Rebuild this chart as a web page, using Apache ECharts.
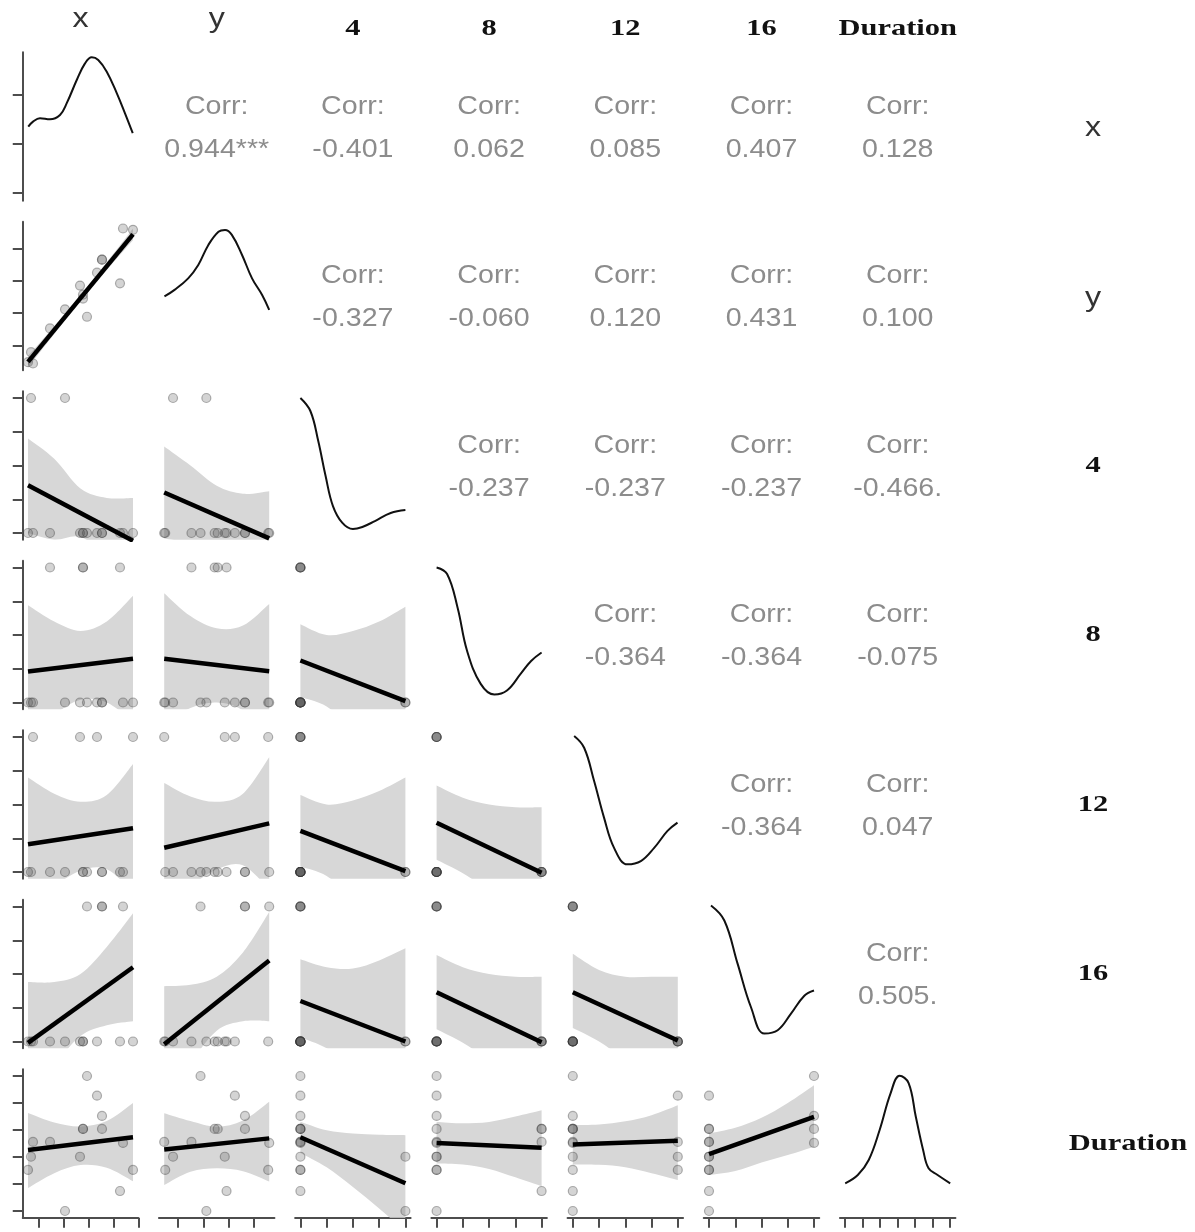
<!DOCTYPE html>
<html><head><meta charset="utf-8">
<script src="https://cdn.jsdelivr.net/npm/echarts@6/dist/echarts.min.js"></script>
<style>html,body{margin:0;padding:0;background:#fff}#c{width:1195px;height:1232px}</style>
</head><body><div id="c"></div>
<script>
// ---------- data (15 observations) ----------
const varNames = ['x', 'y', '4', '8', '12', '16', 'Duration'];
const xVals    = [0.59, 0.71, 2.07, 1.47, 2.79, 2.79, 4.27, 0.79, 2.67, 3.35, 4.79, 2.95, 3.55, 3.55, 4.39];
const yVals    = [0.49, 0.80, 2.12, 1.53, 2.45, 2.57, 2.92, 0.45, 2.85, 3.25, 4.57, 1.89, 3.65, 3.65, 4.61];
const d4       = [0, 1, 1, 0, 0, 0, 0, 0, 0, 0, 0, 0, 0, 0, 0];
const d8       = [0, 0, 0, 1, 1, 1, 1, 0, 0, 0, 0, 0, 0, 0, 0];
const d12      = [0, 0, 0, 0, 0, 0, 0, 1, 1, 1, 1, 0, 0, 0, 0];
const d16      = [0, 0, 0, 0, 0, 0, 0, 0, 0, 0, 0, 1, 1, 1, 1];
const duration = [1.52, 2.01, 0.00, 2.56, 3.04, 3.04, 0.74, 2.56, 2.01, 4.27, 1.52, 5.00, 3.52, 3.04, 2.52];

// correlation texts (upper triangle), row by row
const corrRow0 = ['0.944***', '-0.401', '0.062', '0.085', '0.407', '0.128'];
const corrRow1 = ['-0.327', '-0.060', '0.120', '0.431', '0.100'];
const corrRow2 = ['-0.237', '-0.237', '-0.237', '-0.466.'];
const corrRow3 = ['-0.364', '-0.364', '-0.075'];
const corrRow4 = ['-0.364', '0.047'];
const corrRow5 = ['0.505.'];

// tick positions (no labels shown)
const ticksX   = [1, 2, 3, 4, 5];
const ticksY   = [1, 2, 3, 4];
const ticksBin = [0, 0.25, 0.5, 0.75, 1];
const ticksDurY = [0, 1, 2, 3, 4, 5];
const ticksDurX = [0, 0.833, 1.667, 2.5, 3.333, 4.167, 5];
const ticksDiag0 = [0.052, 0.382, 0.712];

// x positions where the confidence bands were read
const bandXsX = [0.59, 1.64, 2.69, 3.74, 4.79];
const bandXsY = [0.45, 1.49, 2.53, 3.57, 4.61];
const bandXsB = [0, 0.25, 0.5, 0.75, 1];

// fitted lines (value at x-min, x-max) and bands (lo / hi)
const fitYX   = {line: [0.50, 4.43],  lo: [0.32, 1.36, 2.375, 3.33, 4.25],  hi: [0.68, 1.60, 2.555, 3.57, 4.61]};
const fit4X   = {line: [0.353, -0.058], lo: [0.0, -0.05, -0.03, -0.17, -0.38], hi: [0.70, 0.55, 0.33, 0.26, 0.26]};
const fit4Y   = {line: [0.30, -0.04], lo: [-0.04, -0.07, -0.09, -0.20, -0.39], hi: [0.64, 0.50, 0.35, 0.29, 0.31]};
const fit8X   = {line: [0.23, 0.324], lo: [-0.26, -0.09, 0.02, 0.0, -0.14], hi: [0.72, 0.60, 0.53, 0.60, 0.79]};
const fit8Y   = {line: [0.324, 0.232], lo: [-0.16, -0.04, 0.0, -0.06, -0.27], hi: [0.81, 0.64, 0.55, 0.57, 0.73]};
const fit84   = {line: [0.311, 0.01], lo: [0.04, -0.03, -0.20, -0.43, -0.69], hi: [0.58, 0.50, 0.53, 0.60, 0.71]};
const fit12X  = {line: [0.205, 0.324], lo: [-0.29, -0.11, 0.01, 0.02, -0.15], hi: [0.70, 0.58, 0.52, 0.57, 0.80]};
const fit12Y  = {line: [0.18, 0.36], lo: [-0.30, -0.11, 0.02, 0.05, -0.13], hi: [0.66, 0.56, 0.52, 0.58, 0.85]};
const fit124  = {line: [0.304, 0.007], lo: [0.04, -0.03, -0.20, -0.43, -0.69], hi: [0.57, 0.50, 0.53, 0.60, 0.70]};
const fit128  = {line: [0.365, -0.005], lo: [0.09, -0.01, -0.14, -0.30, -0.49], hi: [0.64, 0.55, 0.50, 0.48, 0.48]};
const fit16X  = {line: [-0.01, 0.55], lo: [-0.46, -0.18, 0.04, 0.12, 0.15], hi: [0.44, 0.44, 0.50, 0.70, 0.95]};
const fit16Y  = {line: [-0.02, 0.60], lo: [-0.45, -0.16, 0.08, 0.15, 0.15], hi: [0.41, 0.42, 0.48, 0.66, 0.96]};
const fit164  = {line: [0.30, 0.0], lo: [0.03, -0.05, -0.20, -0.43, -0.69], hi: [0.61, 0.55, 0.54, 0.60, 0.69]};
const fit168  = {line: [0.365, -0.005], lo: [0.09, -0.01, -0.14, -0.30, -0.49], hi: [0.64, 0.55, 0.50, 0.48, 0.48]};
const fit1612 = {line: [0.365, 0.007], lo: [0.10, 0.0, -0.14, -0.30, -0.49], hi: [0.65, 0.53, 0.48, 0.48, 0.48]};
const fitDX   = {line: [2.26, 2.73], lo: [0.85, 1.40, 1.70, 1.60, 1.10], hi: [3.63, 3.28, 3.13, 3.33, 4.00]};
const fitDY   = {line: [2.28, 2.69], lo: [0.96, 1.45, 1.58, 1.47, 1.09], hi: [3.62, 3.33, 3.12, 3.35, 4.05]};
const fitD4   = {line: [2.73, 1.03], lo: [2.15, 1.62, 0.89, 0.09, -0.75], hi: [3.31, 2.99, 2.87, 2.82, 2.81]};
const fitD8   = {line: [2.52, 2.34], lo: [1.76, 1.72, 1.56, 1.25, 0.92], hi: [3.30, 3.25, 3.30, 3.50, 3.73]};
const fitD12  = {line: [2.46, 2.60], lo: [1.72, 1.71, 1.62, 1.40, 1.15], hi: [3.18, 3.20, 3.32, 3.55, 3.92]};
const fitD16  = {line: [2.11, 3.49], lo: [1.33, 1.48, 1.80, 2.07, 2.38], hi: [2.87, 3.08, 3.45, 4.00, 4.66]};

// density curves on the diagonal (x value, relative height in panel)
const densX = [[0.60,0.499],[0.79,0.533],[1.07,0.556],[1.47,0.549],[1.87,0.578],[2.14,0.657],[2.54,0.813],[2.87,0.925],[3.14,0.966],[3.40,0.948],[3.74,0.869],[4.14,0.725],[4.47,0.589],[4.78,0.455]];
const densY = [[0.46,0.497],[0.86,0.541],[1.40,0.619],[1.80,0.709],[2.20,0.844],[2.60,0.933],[2.86,0.945],[3.13,0.912],[3.53,0.778],[3.93,0.619],[4.33,0.507],[4.61,0.407]];
const dens4 = [[0,0.955],[0.095,0.867],[0.17,0.665],[0.24,0.429],[0.31,0.227],[0.40,0.113],[0.50,0.072],[0.59,0.086],[0.71,0.126],[0.86,0.180],[1.0,0.200]];
const dens8 = [[0,0.955],[0.10,0.911],[0.20,0.684],[0.29,0.394],[0.42,0.171],[0.55,0.099],[0.67,0.126],[0.80,0.238],[0.90,0.325],[1.0,0.382]];
const dens12 = [[0.013,0.961],[0.108,0.882],[0.203,0.658],[0.298,0.41],[0.393,0.208],[0.52,0.097],[0.648,0.119],[0.775,0.208],[0.902,0.322],[0.997,0.378]];
const dens16 = [[0.019,0.961],[0.146,0.86],[0.273,0.568],[0.40,0.276],[0.527,0.099],[0.654,0.121],[0.781,0.233],[0.908,0.354],[1.0,0.389]];
const densDur = [[0,0.232],[0.60,0.288],[1.12,0.389],[1.64,0.591],[2.16,0.838],[2.59,0.956],[3.02,0.907],[3.36,0.682],[3.71,0.457],[3.97,0.333],[4.40,0.288],[5.0,0.232]];

// ---------- build ----------
const vars = [xVals, yVals, d4, d8, d12, d16, duration];
const xTickSets = [ticksX, ticksY, ticksBin, ticksBin, ticksBin, ticksBin, ticksDurX];
const yTickSets = [null, ticksY, ticksBin, ticksBin, ticksBin, ticksBin, ticksDurY];
const bandXsByCol = [bandXsX, bandXsY, bandXsB, bandXsB, bandXsB, bandXsB];
const densities = [densX, densY, dens4, dens8, dens12, dens16, densDur];
const corrRows = [corrRow0, corrRow1, corrRow2, corrRow3, corrRow4, corrRow5];
const lowerFits = {
  '1,0': fitYX,
  '2,0': fit4X, '2,1': fit4Y,
  '3,0': fit8X, '3,1': fit8Y, '3,2': fit84,
  '4,0': fit12X, '4,1': fit12Y, '4,2': fit124, '4,3': fit128,
  '5,0': fit16X, '5,1': fit16Y, '5,2': fit164, '5,3': fit168, '5,4': fit1612,
  '6,0': fitDX, '6,1': fitDY, '6,2': fitD4, '6,3': fitD8, '6,4': fitD12, '6,5': fitD16
};

const colLeft = c => 28 + 136.2 * c;
const rowTop = r => 59 + 169.5 * r;
const PW = 105, PH = 135;
const range = arr => [Math.min(...arr), Math.max(...arr)];
const ranges = vars.map(range);
const expand = rg => { const d = rg[1] - rg[0]; return [rg[0] - 0.05 * d, rg[1] + 0.05 * d]; };

const AX = '#4d4d4d';
const grids = [], xAxes = [], yAxes = [], series = [], graphics = [];

function axisCommon(show, ticks) {
  return {
    show: show,
    axisLine: {show: true, onZero: false, lineStyle: {color: AX, width: 2}},
    axisTick: {show: true, length: 10, lineStyle: {color: AX, width: 2}, customValues: ticks || undefined},
    axisLabel: {show: false},
    splitLine: {show: false}
  };
}

function addGrid(r, c, diag) {
  const gi = grids.length;
  grids.push({left: colLeft(c) - 0.05 * PW, top: rowTop(r) - 0.05 * PH, width: PW * 1.1, height: PH * 1.1});
  const xr = expand(ranges[c]);
  xAxes.push(Object.assign({gridIndex: gi, type: 'value', min: xr[0], max: xr[1]}, axisCommon(r === 6, xTickSets[c])));
  if (diag) {
    yAxes.push(Object.assign({gridIndex: gi, type: 'value', min: 0, max: 1}, axisCommon(r === 0 && c === 0, ticksDiag0)));
  } else {
    const yr = expand(ranges[r]);
    yAxes.push(Object.assign({gridIndex: gi, type: 'value', min: yr[0], max: yr[1]}, axisCommon(c === 0, yTickSets[r])));
  }
  return gi;
}

// smooth path through points (Catmull-Rom as cubic Bezier) - drawing helper only
function curvePath(pts, startWithMove) {
  let d = startWithMove ? 'M' + pts[0][0] + ' ' + pts[0][1] : 'L' + pts[0][0] + ' ' + pts[0][1];
  for (let i = 0; i < pts.length - 1; i++) {
    const p0 = pts[Math.max(i - 1, 0)], p1 = pts[i], p2 = pts[i + 1], p3 = pts[Math.min(i + 2, pts.length - 1)];
    const c1x = p1[0] + (p2[0] - p0[0]) / 6, c1y = p1[1] + (p2[1] - p0[1]) / 6;
    const c2x = p2[0] - (p3[0] - p1[0]) / 6, c2y = p2[1] - (p3[1] - p1[1]) / 6;
    d += ' C' + c1x + ' ' + c1y + ' ' + c2x + ' ' + c2y + ' ' + p2[0] + ' ' + p2[1];
  }
  return d;
}

function bandSeries(gi, xs, fit) {
  return {
    type: 'custom', xAxisIndex: gi, yAxisIndex: gi, silent: true, z: 1,
    data: xs.map((x, i) => [x, fit.lo[i], fit.hi[i]]),
    renderItem: function (params, api) {
      if (params.dataIndex !== 0) return null;
      const upper = xs.map((x, i) => api.coord([x, fit.hi[i]]));
      const lower = xs.map((x, i) => api.coord([x, fit.lo[i]])).reverse();
      const d = curvePath(upper, true) + ' ' + curvePath(lower, false) + ' Z';
      const cs = params.coordSys;
      return {
        type: 'path', shape: {pathData: d},
        style: {fill: '#d7d7d7', stroke: null},
        clipPath: {type: 'rect', shape: {x: cs.x, y: cs.y, width: cs.width, height: cs.height}}
      };
    }
  };
}

for (let r = 0; r < 7; r++) {
  for (let c = 0; c <= r; c++) {
    if (r === c) {
      const gi = addGrid(r, c, true);
      series.push({type: 'line', xAxisIndex: gi, yAxisIndex: gi, data: densities[c], smooth: 0.4,
        symbol: 'none', lineStyle: {color: '#111', width: 2}, silent: true, z: 3});
    } else {
      const gi = addGrid(r, c, false);
      const fit = lowerFits[r + ',' + c];
      series.push(bandSeries(gi, bandXsByCol[c], fit));
      series.push({type: 'scatter', xAxisIndex: gi, yAxisIndex: gi,
        data: vars[c].map((v, i) => [v, vars[r][i]]), symbolSize: 9,
        itemStyle: {color: 'rgba(90,90,90,0.33)', borderColor: 'rgba(50,50,50,0.45)', borderWidth: 1.2}, silent: true, z: 2});
      series.push({type: 'line', xAxisIndex: gi, yAxisIndex: gi,
        data: [[ranges[c][0], fit.line[0]], [ranges[c][1], fit.line[1]]], symbol: 'none',
        lineStyle: {color: '#000', width: 4.5}, silent: true, z: 3});
    }
  }
}

// ---------- texts ----------
function txt(x, y, text, font, fill, sx) {
  graphics.push({type: 'text', x: x, y: y, scaleX: sx, silent: true,
    style: {text: text, font: font, fill: fill, align: 'center', verticalAlign: 'middle'}});
}
const SANS = '28px "Liberation Sans", Arial, sans-serif';
const SERIF = 'bold 24px "Liberation Serif", "Times New Roman", serif';
const CORR = '26px "Liberation Sans", Arial, sans-serif';
for (let c = 0; c < 7; c++) {
  const cx = colLeft(c) + PW / 2;
  if (c < 2) txt(cx, 19, varNames[c], SANS, '#333', 1.15);
  else txt(cx, 29, varNames[c], SERIF, '#111', 1.27);
}
for (let r = 0; r < 7; r++) {
  const cy = rowTop(r) + PH / 2;
  if (r < 2) txt(1093, cy + 2, varNames[r], SANS, '#333', 1.15);
  else txt(r === 6 ? 1128 : 1093, cy, varNames[r], SERIF, '#111', 1.27);
}
corrRows.forEach((row, r) => {
  const cy = rowTop(r) + PH / 2;
  row.forEach((val, k) => {
    const c = r + 1 + k;
    const cx = colLeft(c) + PW / 2;
    txt(cx, cy - 20, 'Corr:', CORR, '#8c8c8c', 1.1);
    txt(cx, cy + 23, val, CORR, '#8c8c8c', 1.1);
  });
});

const chart = echarts.init(document.getElementById('c'), null, {renderer: 'canvas'});
chart.setOption({
  animation: false,
  backgroundColor: '#fff',
  grid: grids, xAxis: xAxes, yAxis: yAxes, series: series,
  graphic: graphics
});
</script></body></html>
